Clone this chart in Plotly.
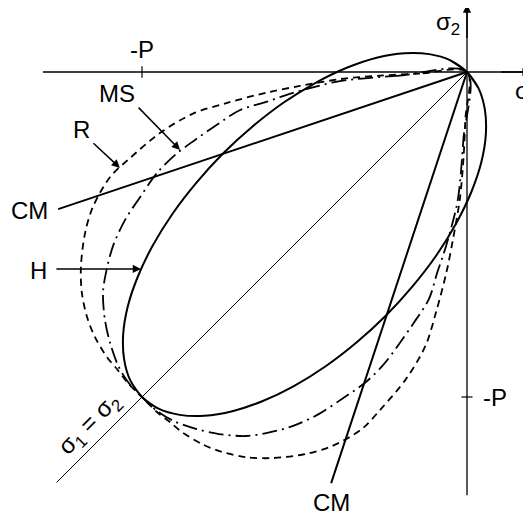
import plotly.graph_objects as go

# yield surfaces in the (sigma1, sigma2) plane, unit = P
# Hill (H) ellipse
hill_x = [0.036, 0, -0.051, -0.116, -0.192, -0.278, -0.370, -0.467, -0.564, -0.659, -0.75, -0.833, -0.906,
          -0.967, -1.013, -1.044, -1.058, -1.055, -1.036, -1.0,
          -0.949, -0.884, -0.808, -0.722, -0.630, -0.534, -0.436, -0.341, -0.25, -0.167, -0.094, -0.034,
          0.013, 0.044, 0.058, 0.055, 0.036, 0, -0.051]
hill_y = [-0.051, 0, 0.036, 0.055, 0.058, 0.044, 0.013, -0.034, -0.094, -0.167, -0.25, -0.341, -0.436,
          -0.534, -0.630, -0.722, -0.808, -0.884, -0.949, -1.0,
          -1.036, -1.055, -1.058, -1.044, -1.013, -0.967, -0.906, -0.833, -0.75, -0.659, -0.564, -0.467,
          -0.370, -0.278, -0.192, -0.116, -0.051, 0, 0.036]

# R curve (dashed)
r_x = [0, -0.145, -0.268, -0.391, -0.514, -0.615, -0.738, -0.843, -0.945, -1.037, -1.098, -1.151, -1.175,
       -1.188, -1.185, -1.169, -1.145, -1.108, -1.077, -1.046, -1.0,
       -0.954, -0.914, -0.877, -0.815, -0.754, -0.680, -0.600, -0.495, -0.415, -0.323, -0.265, -0.188,
       -0.128, -0.095, -0.063, -0.043, -0.022, -0.011, -0.005, 0]
r_y = [0, -0.005, -0.011, -0.022, -0.043, -0.063, -0.095, -0.128, -0.188, -0.265, -0.323, -0.415, -0.495,
       -0.600, -0.680, -0.754, -0.815, -0.877, -0.914, -0.954, -1.0,
       -1.046, -1.077, -1.108, -1.145, -1.169, -1.185, -1.188, -1.175, -1.151, -1.098, -1.037, -0.945,
       -0.843, -0.738, -0.615, -0.514, -0.391, -0.268, -0.145, 0]

# MS curve (dash-dot)
ms_x = [0, -0.206, -0.391, -0.492, -0.566, -0.615, -0.698, -0.775, -0.837, -0.898, -0.954, -1.006, -1.052,
        -1.089, -1.111, -1.120, -1.114, -1.098, -1.074, -1.043, -1.0,
        -0.954, -0.902, -0.834, -0.763, -0.680, -0.618, -0.535, -0.455, -0.385, -0.311, -0.255, -0.209,
        -0.166, -0.117, -0.091, -0.074, -0.052, -0.028, -0.011, 0]
ms_y = [0, -0.011, -0.028, -0.052, -0.074, -0.091, -0.117, -0.166, -0.209, -0.255, -0.311, -0.385, -0.455,
        -0.535, -0.618, -0.680, -0.763, -0.834, -0.902, -0.954, -1.0,
        -1.043, -1.074, -1.098, -1.114, -1.120, -1.111, -1.089, -1.052, -1.006, -0.954, -0.898, -0.837,
        -0.775, -0.698, -0.615, -0.566, -0.492, -0.391, -0.206, 0]

# Coulomb-Mohr (CM) lines and sigma1 = sigma2 diagonal
cm1_x = [0, -1.258]
cm1_y = [0, -0.422]
cm2_x = [0, -0.418]
cm2_y = [0, -1.265]
diag_x = [0, -1.263]
diag_y = [0, -1.263]

# axes and -P ticks
h_axis_x = [-1.305, 0.19]
v_axis_y = [-1.302, 0.20]
p_val = -1.0

FONT = "Liberation Sans, Arial, sans-serif"

fig = go.Figure()

fig.add_trace(go.Scatter(x=h_axis_x, y=[0, 0], mode="lines", line=dict(color="black", width=1.3)))
fig.add_trace(go.Scatter(x=[0, 0], y=v_axis_y, mode="lines", line=dict(color="black", width=1.3)))
fig.add_trace(go.Scatter(x=[p_val, p_val], y=[-0.018, 0.018], mode="lines", line=dict(color="black", width=1.2)))
fig.add_trace(go.Scatter(x=[-0.017, 0.017], y=[p_val, p_val], mode="lines", line=dict(color="black", width=1.2)))

fig.add_trace(go.Scatter(x=diag_x, y=diag_y, mode="lines", line=dict(color="black", width=1)))
fig.add_trace(go.Scatter(x=cm1_x, y=cm1_y, mode="lines", line=dict(color="black", width=2)))
fig.add_trace(go.Scatter(x=cm2_x, y=cm2_y, mode="lines", line=dict(color="black", width=2)))

fig.add_trace(go.Scatter(x=r_x, y=r_y, mode="lines",
                         line=dict(color="black", width=1.8, dash="7px,5px", shape="spline", smoothing=0.9)))
fig.add_trace(go.Scatter(x=ms_x, y=ms_y, mode="lines",
                         line=dict(color="black", width=1.8, dash="15px,5px,2px,5px", shape="spline", smoothing=0.9)))
fig.add_trace(go.Scatter(x=hill_x, y=hill_y, mode="lines",
                         line=dict(color="black", width=2, shape="spline", smoothing=0.7)))

# labels
labels = [
    ("-P", -1.0, 0.068, 0),
    ("MS", -1.077, -0.065, 0),
    ("R", -1.185, -0.178, 0),
    ("CM", -1.345, -0.425, 0),
    ("H", -1.317, -0.612, 0),
    ("CM", -0.418, -1.326, 0),
    ("-P", 0.086, -1.003, 0),
    ("σ<sub>2</sub>", -0.058, 0.150, 0),
    ("σ<sub>1</sub>", 0.185, -0.062, 0),
    ("σ<sub>1</sub> = σ<sub>2</sub>", -1.16, -1.085, -45),
]
for txt, lx, ly, ang in labels:
    fig.add_annotation(x=lx, y=ly, text=txt, showarrow=False, textangle=ang,
                       font=dict(family=FONT, size=24, color="black"))

# arrows: (head x, head y, tail x, tail y)
arrows = [
    (-0.883, -0.240, -1.015, -0.105),
    (-1.068, -0.295, -1.154, -0.215),
    (-1.003, -0.606, -1.268, -0.606),
    (0.196, 0, 0.10, 0),
    (0, 0.208, 0, 0.10),
]
for hx, hy, tx, ty in arrows:
    fig.add_annotation(x=hx, y=hy, ax=tx, ay=ty, xref="x", yref="y", axref="x", ayref="y",
                       text="", showarrow=True, arrowhead=2, arrowsize=1.1, arrowwidth=1.5,
                       arrowcolor="black", standoff=0, startstandoff=0)

# page body has an 8px margin, so the figure starts at (8, 8) in the window
fig.update_layout(
    width=523, height=507, autosize=False,
    margin=dict(l=0, r=0, t=0, b=0),
    showlegend=False,
    plot_bgcolor="white", paper_bgcolor="white",
    xaxis=dict(range=[-459 / 325, 64 / 325], visible=False, fixedrange=True),
    yaxis=dict(range=[-443 / 325, 64 / 325], visible=False, fixedrange=True),
)

fig.write_html("out.html")
